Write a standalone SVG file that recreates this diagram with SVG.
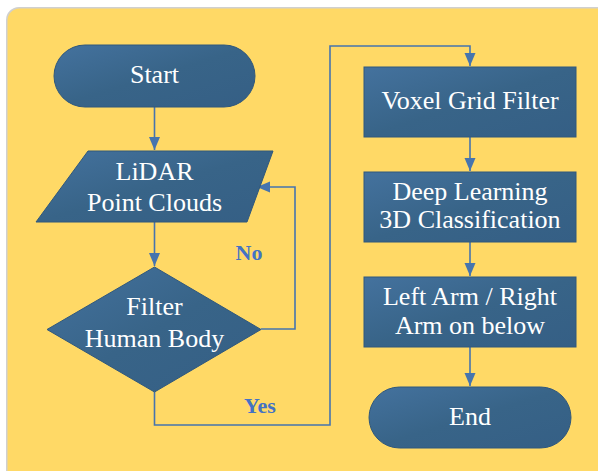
<svg xmlns="http://www.w3.org/2000/svg" width="598" height="471" viewBox="0 0 598 471">
<defs>
<linearGradient id="g" x1="0" y1="0" x2="1" y2="1">
<stop offset="0" stop-color="#44729e"/>
<stop offset="0.5" stop-color="#386488"/>
<stop offset="1" stop-color="#355f85"/>
</linearGradient>
<marker id="ah" markerUnits="userSpaceOnUse" markerWidth="14" markerHeight="14" viewBox="0 0 14 14" refX="13" refY="7" orient="auto">
<path d="M0,1.5 L13,7 L0,12.5 Z" fill="#4674ae"/>
</marker>
<style>
.n{fill:url(#g);stroke:#30587c;stroke-width:1}
.t{font-family:'Liberation Serif','DejaVu Serif',serif;font-size:26px;fill:#ffffff;text-anchor:middle}
.c{fill:none;stroke:#4674ae;stroke-width:1.6}
.l{font-family:'Liberation Serif','DejaVu Serif',serif;font-size:22px;font-weight:bold;fill:#4472c4;text-anchor:middle}
</style>
</defs>
<rect x="0" y="0" width="598" height="471" fill="#ffffff"/>
<rect x="6" y="7" width="604" height="480" rx="13" fill="#d0d0d0"/>
<rect x="7.5" y="8.5" width="602" height="478" rx="12" fill="#ffd966"/>
<g id="connectors">
<path class="c" d="M154.5,107 V150" marker-end="url(#ah)"/>
<path class="c" d="M154.5,222 V266" marker-end="url(#ah)"/>
<path class="c" d="M261,329 H295 V187 H257" marker-end="url(#ah)"/>
<path class="c" d="M154.5,392 V425 H330 V46 H470 V66" marker-end="url(#ah)"/>
<path class="c" d="M470,137 V171" marker-end="url(#ah)"/>
<path class="c" d="M470,242 V276" marker-end="url(#ah)"/>
<path class="c" d="M470,347 V386" marker-end="url(#ah)"/>
<text class="l" x="249" y="260" font-family="Liberation Serif, serif">No</text>
<text class="l" x="260" y="413" font-family="Liberation Serif, serif">Yes</text>
</g>
<g id="start">
<rect class="n" x="54" y="45" width="201" height="62" rx="31"/>
<text class="t" x="154.5" y="83" font-family="Liberation Serif, serif">Start</text>
</g>
<g id="lidar">
<path class="n" d="M88,151 H273 L247,222 H36 Z"/>
<text class="t" x="154.5" y="180" font-family="Liberation Serif, serif">LiDAR</text>
<text class="t" x="154.5" y="211" font-family="Liberation Serif, serif">Point Clouds</text>
</g>
<g id="filter">
<path class="n" d="M154.5,267 L261,329.5 L154.5,392 L47,329.5 Z"/>
<text class="t" x="154.5" y="315" font-family="Liberation Serif, serif">Filter</text>
<text class="t" x="154.5" y="347" font-family="Liberation Serif, serif">Human Body</text>
</g>
<g id="voxel">
<rect class="n" x="364" y="67" width="212" height="70"/>
<text class="t" x="470" y="109" font-family="Liberation Serif, serif">Voxel Grid Filter</text>
</g>
<g id="deep">
<rect class="n" x="364" y="172" width="212" height="70"/>
<text class="t" x="470" y="200" font-family="Liberation Serif, serif">Deep Learning</text>
<text class="t" x="470" y="228" font-family="Liberation Serif, serif">3D Classification</text>
</g>
<g id="arm">
<rect class="n" x="364" y="277" width="212" height="70"/>
<text class="t" x="470" y="305" font-family="Liberation Serif, serif">Left Arm / Right</text>
<text class="t" x="470" y="334" font-family="Liberation Serif, serif">Arm on below</text>
</g>
<g id="end">
<rect class="n" x="369" y="387" width="202" height="61" rx="30.5"/>
<text class="t" x="470" y="425" font-family="Liberation Serif, serif">End</text>
</g>
</svg>
